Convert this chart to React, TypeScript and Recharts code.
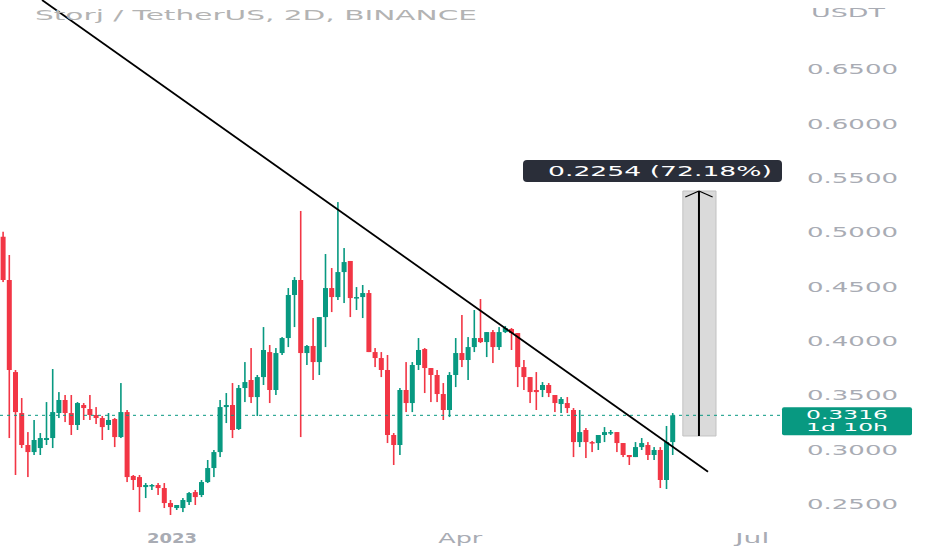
import React from 'react';
import { ComposedChart, Bar, XAxis, YAxis, ReferenceLine, ReferenceArea } from 'recharts';

// --- candle data (Storj / TetherUS, 2D) ---
const opens = [
  0.4959, 0.4561, 0.3714, 0.3337, 0.3043, 0.2978, 0.3015, 0.3089, 0.3107, 0.3337,
  0.3457, 0.3337, 0.3227, 0.3411, 0.3374, 0.3319, 0.3291, 0.3227, 0.3282, 0.3116,
  0.3346, 0.2758, 0.2748, 0.2656, 0.2666, 0.2675, 0.2647, 0.2509, 0.2463, 0.2463,
  0.2518, 0.2610, 0.2583, 0.2702, 0.2831, 0.2978, 0.3392, 0.3411, 0.3190, 0.3567,
  0.3641, 0.3484, 0.3668, 0.3898, 0.3549, 0.3889, 0.4027, 0.4423, 0.4561, 0.3889,
  0.3954, 0.3806, 0.4220, 0.4487, 0.4404, 0.4634, 0.4736, 0.4395, 0.4404, 0.4441,
  0.3898, 0.3843, 0.3733, 0.3135, 0.3043, 0.3549, 0.3429, 0.3779, 0.3926, 0.3751,
  0.3687, 0.3512, 0.3365, 0.3687, 0.3889, 0.3825, 0.3944, 0.4027, 0.3990, 0.4082,
  0.3944, 0.4082, 0.4110, 0.4073, 0.3760, 0.3668, 0.3549, 0.3549, 0.3595, 0.3503,
  0.3420, 0.3429, 0.3365, 0.3070, 0.3181, 0.3070, 0.3061, 0.3135, 0.3153, 0.3162,
  0.3061, 0.2951, 0.2932, 0.3024, 0.3043, 0.2951, 0.2997, 0.2721, 0.3070,
];
const highs = [
  0.5005, 0.4791, 0.3733, 0.3475, 0.3162, 0.3273, 0.3153, 0.3438, 0.3742, 0.3530,
  0.3503, 0.3503, 0.3438, 0.3429, 0.3503, 0.3392, 0.3310, 0.3337, 0.3291, 0.3613,
  0.3365, 0.2767, 0.2767, 0.2693, 0.2684, 0.2693, 0.2693, 0.2537, 0.2491, 0.2555,
  0.2610, 0.2629, 0.2721, 0.2905, 0.2997, 0.3457, 0.3521, 0.3613, 0.3595, 0.3806,
  0.3935, 0.3687, 0.4128, 0.3963, 0.3935, 0.4036, 0.4487, 0.4588, 0.5196, 0.3963,
  0.4211, 0.4220, 0.4800, 0.4671, 0.5278, 0.4855, 0.4736, 0.4496, 0.4515, 0.4469,
  0.3935, 0.3898, 0.3871, 0.3153, 0.3567, 0.3806, 0.3806, 0.4027, 0.3935, 0.3751,
  0.3733, 0.3613, 0.3714, 0.4027, 0.4239, 0.4036, 0.4285, 0.4386, 0.4082, 0.4101,
  0.4128, 0.4138, 0.4119, 0.4073, 0.3825, 0.3668, 0.3714, 0.3622, 0.3613, 0.3503,
  0.3484, 0.3484, 0.3383, 0.3365, 0.3199, 0.3080, 0.3135, 0.3208, 0.3181, 0.3162,
  0.3061, 0.2951, 0.3070, 0.3107, 0.3070, 0.3024, 0.3024, 0.3218, 0.3337,
];
const lows = [
  0.4542, 0.3107, 0.2767, 0.3015, 0.2748, 0.2951, 0.2951, 0.3043, 0.3015, 0.3291,
  0.3254, 0.3135, 0.3181, 0.3273, 0.3273, 0.3236, 0.3089, 0.3181, 0.3024, 0.3107,
  0.2702, 0.2629, 0.2426, 0.2555, 0.2629, 0.2583, 0.2463, 0.2399, 0.2445, 0.2426,
  0.2491, 0.2491, 0.2564, 0.2693, 0.2748, 0.2932, 0.3245, 0.3107, 0.3181, 0.3438,
  0.3429, 0.3310, 0.3595, 0.3429, 0.3503, 0.3871, 0.3944, 0.4128, 0.3116, 0.3779,
  0.3641, 0.3687, 0.3944, 0.4266, 0.4377, 0.4349, 0.4220, 0.4285, 0.4211, 0.3898,
  0.3760, 0.3668, 0.3061, 0.2859, 0.2951, 0.3346, 0.3346, 0.3733, 0.3521, 0.3438,
  0.3438, 0.3273, 0.3300, 0.3576, 0.3760, 0.3641, 0.3898, 0.3981, 0.3852, 0.3797,
  0.3917, 0.4073, 0.3917, 0.3576, 0.3549, 0.3429, 0.3365, 0.3484, 0.3484, 0.3346,
  0.3337, 0.3337, 0.2932, 0.3024, 0.2923, 0.2978, 0.2997, 0.3070, 0.3135, 0.2978,
  0.2932, 0.2859, 0.2932, 0.2997, 0.2905, 0.2905, 0.2647, 0.2638, 0.2951,
];
const closes = [
  0.4561, 0.3733, 0.3346, 0.3043, 0.2978, 0.3089, 0.3107, 0.3107, 0.3346, 0.3457,
  0.3337, 0.3227, 0.3429, 0.3383, 0.3319, 0.3291, 0.3208, 0.3273, 0.3116, 0.3346,
  0.2748, 0.2721, 0.2656, 0.2675, 0.2675, 0.2647, 0.2509, 0.2472, 0.2491, 0.2537,
  0.2601, 0.2564, 0.2702, 0.2831, 0.2978, 0.3392, 0.3411, 0.3181, 0.3567, 0.3622,
  0.3484, 0.3668, 0.3917, 0.3549, 0.3889, 0.4027, 0.4423, 0.4561, 0.3889, 0.3954,
  0.3806, 0.4220, 0.4487, 0.4404, 0.4634, 0.4726, 0.4395, 0.4404, 0.4441, 0.3898,
  0.3843, 0.3733, 0.3135, 0.3043, 0.3549, 0.3429, 0.3779, 0.3917, 0.3751, 0.3687,
  0.3512, 0.3365, 0.3687, 0.3889, 0.3825, 0.3944, 0.4027, 0.3990, 0.4082, 0.3944,
  0.4082, 0.4119, 0.4073, 0.3760, 0.3668, 0.3530, 0.3530, 0.3595, 0.3521, 0.3429,
  0.3466, 0.3383, 0.3070, 0.3162, 0.3070, 0.3061, 0.3135, 0.3162, 0.3162, 0.3061,
  0.2951, 0.2932, 0.3024, 0.3061, 0.2951, 0.2997, 0.2721, 0.3070, 0.3316,
];

// axis ticks
const priceTicks = [0.25, 0.3, 0.35, 0.4, 0.45, 0.5, 0.55, 0.6, 0.65];
const timeTicks = [27.3, 73.8, 120.9];
const timeLabels = ['2023', 'Apr', 'Jul'];

// drawings on the chart
const lastPrice = 0.3316;
const countdown = '1d 10h';
const trendFrom = { x: 6.34, y: 0.7137 };
const trendTo = { x: 113.76, y: 0.2796 };
const measureLow = 0.3126;
const measureHigh = 0.538;
const measureLeft = 109.7;
const measureRight = 115.05;
const measureMid = 112.3;
const measureText = '0.2254 (72.18%)';

const UP = '#089981';
const DOWN = '#F23645';
const GREY = '#a9acb4';
const FONT = '"DejaVu Sans", "Liberation Sans", sans-serif';

const data = opens.map((o, i) => ({
  idx: i,
  open: o,
  high: highs[i],
  low: lows[i],
  close: closes[i],
}));

const Candle = (props: any) => {
  const { x, y, width, height, payload } = props;
  if (x == null || y == null) return null;
  const top = Math.min(y, y + height);
  const h = Math.abs(height);
  const { open, close, high, low } = payload;
  const k = high - low > 0 ? h / (high - low) : 0;
  const yOf = (v: number) => top + (high - v) * k;
  const up = close >= open;
  const color = up ? UP : DOWN;
  const bTop = yOf(Math.max(open, close));
  const bH = Math.max(1.5, yOf(Math.min(open, close)) - bTop);
  const cx = x + width / 2;
  return (
    <g>
      <rect x={cx - 0.8} y={top} width={1.6} height={Math.max(h, 1)} fill={color} />
      <rect x={x} y={bTop} width={width} height={bH} fill={color} />
    </g>
  );
};

const tickWidths = [50, 44, 34];

const TimeTick = (props: any) => {
  const { x, payload } = props;
  const i = timeTicks.indexOf(payload.value);
  if (i < 0) return null;
  return (
    <text
      x={x}
      y={543}
      textAnchor="middle"
      fill={GREY}
      fontSize={13.5}
      fontWeight={i === 0 ? 700 : 400}
      fontFamily={FONT}
      textLength={tickWidths[i]}
      lengthAdjust="spacingAndGlyphs"
    >
      {timeLabels[i]}
    </text>
  );
};

const PriceTick = (props: any) => {
  const { y, payload } = props;
  return (
    <text
      x={807}
      y={y + 5}
      fill={GREY}
      fontSize={13.5}
      fontFamily={FONT}
      textLength={91}
      lengthAdjust="spacingAndGlyphs"
    >
      {payload.value.toFixed(4)}
    </text>
  );
};

const PriceTag = (props: any) => {
  const vb = props.viewBox || {};
  const left = (vb.x || 0) + (vb.width || 0) + 2;
  const ly = vb.y || 0;
  return (
    <g>
      <rect x={left} y={ly - 8} width={130} height={28} rx={2} fill={UP} />
      <text x={left + 24} y={ly + 4} fill="#fff" fontSize={12} fontFamily={FONT} textLength={82} lengthAdjust="spacingAndGlyphs">
        {lastPrice.toFixed(4)}
      </text>
      <text x={left + 24} y={ly + 16} fill="#fff" fontSize={11} fontFamily={FONT} textLength={82} lengthAdjust="spacingAndGlyphs">
        {countdown}
      </text>
    </g>
  );
};

export default function App() {
  return (
    <div style={{ position: 'absolute', left: 0, top: 0, width: 932, height: 550, background: '#fff', overflow: 'hidden' }}>
      <ComposedChart width={932} height={550} data={data} margin={{ top: 0, right: 0, bottom: 0, left: 0 }}>
        <XAxis
          dataKey="idx"
          type="number"
          domain={[-0.435, 125.37]}
          allowDataOverflow
          ticks={timeTicks}
          tick={<TimeTick />}
          tickLine={false}
          axisLine={false}
          height={30}
          interval={0}
        />
        <YAxis
          orientation="right"
          type="number"
          domain={[0.2353, 0.7137]}
          allowDataOverflow
          ticks={priceTicks}
          tick={<PriceTick />}
          tickLine={false}
          axisLine={false}
          width={152}
          interval={0}
        />
        <ReferenceArea
          x1={measureLeft}
          x2={measureRight}
          y1={measureLow}
          y2={measureHigh}
          fill="#d6d6d6"
          fillOpacity={0.9}
          stroke="#c2c2c2"
          strokeOpacity={1}
          ifOverflow="visible"
        />
        <ReferenceLine
          y={lastPrice}
          stroke={UP}
          strokeDasharray="3 4"
          strokeWidth={1}
          label={<PriceTag />}
        />
        <Bar
          dataKey={(d: any) => [d.low, d.high]}
          barSize={5}
          shape={<Candle />}
          isAnimationActive={false}
        />
        <ReferenceLine
          segment={[trendFrom, trendTo]}
          stroke="#000"
          strokeWidth={1.8}
          ifOverflow="visible"
        />
        <ReferenceLine
          segment={[{ x: measureMid, y: measureLow }, { x: measureMid, y: measureHigh }]}
          stroke="#000"
          strokeWidth={2}
          ifOverflow="visible"
        />
        <ReferenceLine
          segment={[{ x: measureMid - 2.2, y: 0.5325 }, { x: measureMid, y: measureHigh }]}
          stroke="#000"
          strokeWidth={1.2}
          ifOverflow="visible"
        />
        <ReferenceLine
          segment={[{ x: measureMid + 2.2, y: 0.5325 }, { x: measureMid, y: measureHigh }]}
          stroke="#000"
          strokeWidth={1.2}
          ifOverflow="visible"
        />
      </ComposedChart>
      <svg
        width={932}
        height={550}
        style={{ position: 'absolute', left: 0, top: 0, pointerEvents: 'none' }}
      >
        <text x={35} y={20} fill="#b3b3b3" fontSize={13.5} fontFamily={FONT} textLength={442} lengthAdjust="spacingAndGlyphs">
          Storj / TetherUS, 2D, BINANCE
        </text>
        <text x={811} y={17} fill={GREY} fontSize={12.5} fontFamily={FONT} textLength={74} lengthAdjust="spacingAndGlyphs">
          USDT
        </text>
        <rect x={523} y={160} width={259} height={22} rx={4} fill="#2a2e39" />
        <text x={548} y={176} fill="#fff" fontSize={13.5} fontFamily={FONT} textLength={224} lengthAdjust="spacingAndGlyphs">
          {measureText}
        </text>
      </svg>
    </div>
  );
}
